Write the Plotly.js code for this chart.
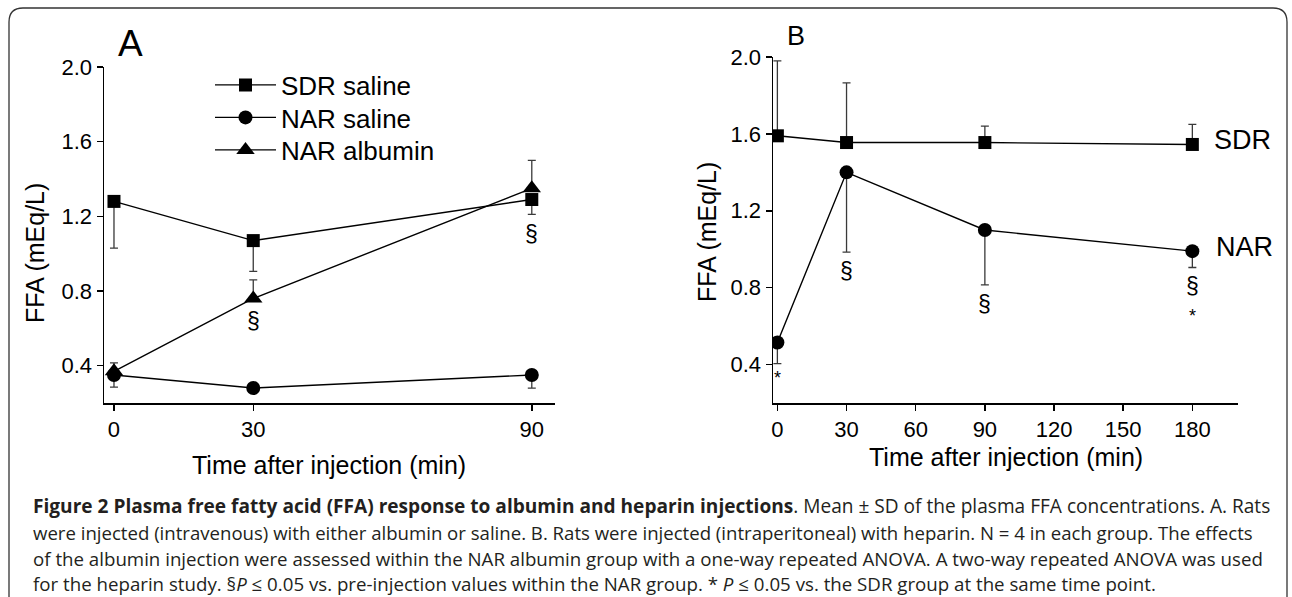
<!DOCTYPE html>
<html><head><meta charset="utf-8">
<script src="https://cdn.plot.ly/plotly-3.0.1.min.js"></script>
<style>html,body{margin:0;padding:0;background:#fff;} #chart{width:1292px;height:597px;}</style>
</head><body><div id="chart"></div>
<script>
const W = 1292, H = 597;
// ---------- Panel A data ----------
const timeA = [0, 30, 90];
const sdrSalineA = [1.28, 1.07, 1.29];
const sdrSalineA_sdDown = [0.25, 0.165, 0.08];
const narSalineA = [0.35, 0.28, 0.35];
const narSalineA_sdDown = [0.065, 0, 0.07];
const narAlbuminA = [0.37, 0.76, 1.35];
const narAlbuminA_sdUp = [0.045, 0.10, 0.15];
const xTicksA = [0, 30, 90];
const legendNames = ['SDR saline', 'NAR saline', 'NAR albumin'];
// ---------- Panel B data ----------
const timeB = [0, 30, 90, 180];
const sdrB = [1.59, 1.555, 1.555, 1.545];
const sdrB_sdUp = [0.39, 0.31, 0.085, 0.105];
const narB = [0.515, 1.40, 1.10, 0.99];
const narB_sdDown = [0.11, 0.415, 0.285, 0.085];
const xTicksB = [0, 30, 60, 90, 120, 150, 180];
const groupLabelsB = ['SDR', 'NAR'];
// ---------- shared ----------
const yTicks = [0.4, 0.8, 1.2, 1.6, 2.0];
const yTickLabels = ['0.4', '0.8', '1.2', '1.6', '2.0'];
const yTitle = 'FFA (mEq/L)';
const xTitle = 'Time after injection (min)';
const panelLabels = ['A', 'B'];
// significance marks: which series / time index they sit under
const sigA = [{series: 'albumin', idx: 1, text: '§'}, {series: 'sdr', idx: 2, text: '§'}];
const sigB = [{idx: 0, text: '*'}, {idx: 1, text: '§'}, {idx: 2, text: '§'}, {idx: 3, text: '§'}, {idx: 3, text: '*', below: true}];
const captionLines = [
  '<b>Figure 2 Plasma free fatty acid (FFA) response to albumin and heparin injections</b>. Mean ± SD of the plasma FFA concentrations. A. Rats',
  'were injected (intravenous) with either albumin or saline. B. Rats were injected (intraperitoneal) with heparin. N = 4 in each group. The effects',
  'of the albumin injection were assessed within the NAR albumin group with a one-way repeated ANOVA. A two-way repeated ANOVA was used',
  'for the heparin study. §<i>P</i> ≤ 0.05 vs. pre-injection values within the NAR group. * <i>P</i> ≤ 0.05 vs. the SDR group at the same time point.'
];

const px = x => x / W;
const py = y => 1 - y / H;
const FONT = 'Liberation Sans, Arial, sans-serif';
const zeros = n => new Array(n).fill(0);
const lineStyle = {color: '#000', width: 1.4};
const errStyle = {color: '#3a3a3a', thickness: 1.3, width: 4};

const traces = [
  {x: timeA, y: sdrSalineA, name: legendNames[0], legend: 'legend', type: 'scatter', mode: 'lines+markers', xaxis: 'x', yaxis: 'y',
   line: lineStyle, marker: {symbol: 'square', size: 13, color: '#000'},
   error_y: Object.assign({type: 'data', symmetric: false, array: zeros(3), arrayminus: sdrSalineA_sdDown}, errStyle)},
  {x: timeA, y: narSalineA, name: legendNames[1], legend: 'legend2', type: 'scatter', mode: 'lines+markers', xaxis: 'x', yaxis: 'y',
   line: lineStyle, marker: {symbol: 'circle', size: 14, color: '#000'},
   error_y: Object.assign({type: 'data', symmetric: false, array: zeros(3), arrayminus: narSalineA_sdDown}, errStyle)},
  {x: timeA, y: narAlbuminA, name: legendNames[2], legend: 'legend3', type: 'scatter', mode: 'lines+markers', xaxis: 'x', yaxis: 'y',
   line: lineStyle, marker: {symbol: 'triangle-up', size: 16, color: '#000'},
   error_y: Object.assign({type: 'data', symmetric: false, array: narAlbuminA_sdUp, arrayminus: zeros(3)}, errStyle)},
  {x: timeB, y: sdrB, name: 'SDR', showlegend: false, type: 'scatter', mode: 'lines+markers', xaxis: 'x2', yaxis: 'y2',
   line: lineStyle, marker: {symbol: 'square', size: 13, color: '#000'},
   error_y: Object.assign({type: 'data', symmetric: false, array: sdrB_sdUp, arrayminus: zeros(4)}, errStyle)},
  {x: timeB, y: narB, name: 'NAR', showlegend: false, type: 'scatter', mode: 'lines+markers', xaxis: 'x2', yaxis: 'y2',
   line: lineStyle, marker: {symbol: 'circle', size: 14, color: '#000'},
   error_y: Object.assign({type: 'data', symmetric: false, array: zeros(4), arrayminus: narB_sdDown}, errStyle)}
];

const axisBase = {
  showline: true, linecolor: '#000', linewidth: 1.5, ticks: 'outside', ticklen: 6, tickwidth: 1.5, tickcolor: '#000',
  showgrid: false, zeroline: false, tickfont: {family: FONT, size: 22, color: '#000'}, fixedrange: true
};

const annotations = [];
const addText = (o) => annotations.push(Object.assign({showarrow: false, font: {family: FONT, size: 25, color: '#000'}}, o));

// axis titles
addText({xref: 'paper', yref: 'paper', x: px(35), y: py(253), text: yTitle, textangle: -90, xanchor: 'center', yanchor: 'middle'});
addText({xref: 'paper', yref: 'paper', x: px(707), y: py(232), text: yTitle, textangle: -90, xanchor: 'center', yanchor: 'middle'});
addText({xref: 'paper', yref: 'paper', x: px(329), y: py(465), text: xTitle, xanchor: 'center', yanchor: 'middle'});
addText({xref: 'paper', yref: 'paper', x: px(1006), y: py(457), text: xTitle, xanchor: 'center', yanchor: 'middle'});
// panel labels
addText({xref: 'paper', yref: 'paper', x: px(130), y: py(44), text: panelLabels[0], font: {family: FONT, size: 37, color: '#000'}, xanchor: 'center', yanchor: 'middle'});
addText({xref: 'paper', yref: 'paper', x: px(796), y: py(36), text: panelLabels[1], font: {family: FONT, size: 27, color: '#000'}, xanchor: 'center', yanchor: 'middle'});
// group labels in B
addText({xref: 'x2', yref: 'y2', x: timeB[3], y: sdrB[3], text: groupLabelsB[0], xanchor: 'left', yanchor: 'middle', xshift: 20, yshift: 4, font: {family: FONT, size: 27, color: '#000'}});
addText({xref: 'x2', yref: 'y2', x: timeB[3], y: narB[3], text: groupLabelsB[1], xanchor: 'left', yanchor: 'middle', xshift: 22, yshift: 4, font: {family: FONT, size: 27, color: '#000'}});
// significance marks A
sigA.forEach(s => {
  let yv;
  if (s.series === 'albumin') yv = narAlbuminA[s.idx];
  else yv = sdrSalineA[s.idx] - sdrSalineA_sdDown[s.idx];
  addText({xref: 'x', yref: 'y', x: timeA[s.idx], y: yv, text: s.text, xanchor: 'center', yanchor: 'top', yshift: s.series === 'albumin' ? -8 : -5, font: {family: FONT, size: 23, color: '#000'}});
});
// significance marks B
sigB.forEach(s => {
  const yv = narB[s.idx] - narB_sdDown[s.idx];
  const isStar = s.text === '*';
  addText({xref: 'x2', yref: 'y2', x: timeB[s.idx], y: yv, text: s.text, xanchor: 'center', yanchor: 'top',
    yshift: s.below ? -37 : (isStar ? -2 : -4), font: {family: FONT, size: isStar ? 18 : 23, color: '#000'}});
});
// caption
const capY = [506, 532, 558, 583];
const capSize = [19.1, 18.6, 18.7, 18.7];
captionLines.forEach((t, i) => {
  addText({xref: 'paper', yref: 'paper', x: px(31), y: py(capY[i]), text: t, xanchor: 'left', yanchor: 'middle',
    font: {family: 'Open Sans, Noto Sans, sans-serif', size: capSize[i], color: '#231f20'}});
});

// rounded frame
const fx0 = 9, fy0 = 8, fx1 = 1287, fy1 = 620, r = 14;
const framePath = `M ${px(fx0)},${py(fy1)} L ${px(fx0)},${py(fy0 + r)} Q ${px(fx0)},${py(fy0)} ${px(fx0 + r)},${py(fy0)} L ${px(fx1 - r)},${py(fy0)} Q ${px(fx1)},${py(fy0)} ${px(fx1)},${py(fy0 + r)} L ${px(fx1)},${py(fy1)}`;

const legendBase = {xanchor: 'left', yanchor: 'top', font: {family: FONT, size: 26, color: '#000'},
  bgcolor: 'rgba(0,0,0,0)', borderwidth: 0, itemwidth: 61, tracegroupgap: 0, itemclick: false, itemdoubleclick: false};
const legendTops = [61.5, 94, 126.5];

const layout = {
  width: W, height: H, margin: {l: 0, r: 0, t: 0, b: 0}, paper_bgcolor: '#fff', plot_bgcolor: 'rgba(0,0,0,0)',
  showlegend: true,
  legend: Object.assign({}, legendBase, {x: px(210), y: py(legendTops[0])}),
  legend2: Object.assign({}, legendBase, {x: px(210), y: py(legendTops[1])}),
  legend3: Object.assign({}, legendBase, {x: px(210), y: py(legendTops[2])}),
  xaxis: Object.assign({}, axisBase, {domain: [px(104), px(555)], range: [-2.15, 95], tickvals: xTicksA, anchor: 'y'}),
  yaxis: Object.assign({}, axisBase, {domain: [py(403), py(67)], range: [0.2, 2.0], tickvals: yTicks, ticktext: yTickLabels, anchor: 'x'}),
  xaxis2: Object.assign({}, axisBase, {domain: [px(773), px(1238)], range: [-1.9, 199.8], tickvals: xTicksB, anchor: 'y2'}),
  yaxis2: Object.assign({}, axisBase, {domain: [py(403), py(57)], range: [0.2, 2.0], tickvals: yTicks, ticktext: yTickLabels, anchor: 'x2'}),
  annotations: annotations,
  shapes: [{type: 'path', xref: 'paper', yref: 'paper', path: framePath, line: {color: '#333', width: 1.3}}]
};

Plotly.newPlot('chart', traces, layout, {staticPlot: true, displayModeBar: false});
</script>
</body></html>
